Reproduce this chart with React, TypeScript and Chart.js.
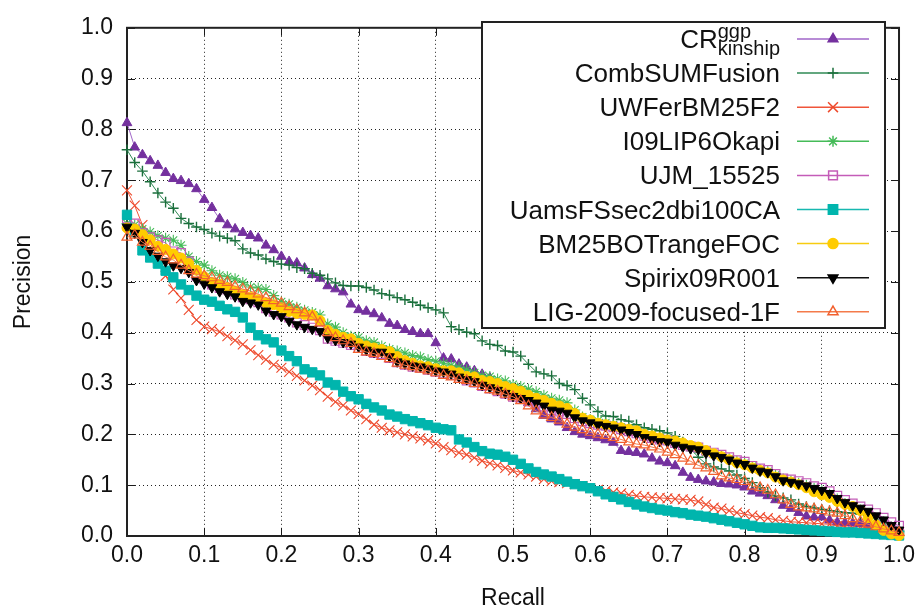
import React, { useEffect, useRef } from 'react';
import { Chart, registerables } from 'chart.js';
import { drawPoint } from 'chart.js/helpers';

Chart.register(...registerables);

const RECALL = [
  0.00, 0.01, 0.02, 0.03, 0.04, 0.05, 0.06, 0.07, 0.08, 0.09,
  0.10, 0.11, 0.12, 0.13, 0.14, 0.15, 0.16, 0.17, 0.18, 0.19,
  0.20, 0.21, 0.22, 0.23, 0.24, 0.25, 0.26, 0.27, 0.28, 0.29,
  0.30, 0.31, 0.32, 0.33, 0.34, 0.35, 0.36, 0.37, 0.38, 0.39,
  0.40, 0.41, 0.42, 0.43, 0.44, 0.45, 0.46, 0.47, 0.48, 0.49,
  0.50, 0.51, 0.52, 0.53, 0.54, 0.55, 0.56, 0.57, 0.58, 0.59,
  0.60, 0.61, 0.62, 0.63, 0.64, 0.65, 0.66, 0.67, 0.68, 0.69,
  0.70, 0.71, 0.72, 0.73, 0.74, 0.75, 0.76, 0.77, 0.78, 0.79,
  0.80, 0.81, 0.82, 0.83, 0.84, 0.85, 0.86, 0.87, 0.88, 0.89,
  0.90, 0.91, 0.92, 0.93, 0.94, 0.95, 0.96, 0.97, 0.98, 0.99,
  1.00,
];

const CR_KINSHIP = [
  0.813, 0.765, 0.750, 0.738, 0.729, 0.715, 0.703, 0.699, 0.693, 0.683,
  0.662, 0.646, 0.624, 0.612, 0.604, 0.597, 0.591, 0.586, 0.572, 0.563,
  0.550, 0.540, 0.537, 0.527, 0.514, 0.507, 0.492, 0.486, 0.480, 0.456,
  0.445, 0.442, 0.437, 0.429, 0.418, 0.414, 0.406, 0.402, 0.398, 0.398,
  0.380, 0.350, 0.348, 0.338, 0.332, 0.325, 0.318, 0.311, 0.300, 0.290,
  0.280, 0.270, 0.262, 0.250, 0.237, 0.230, 0.224, 0.213, 0.205, 0.200,
  0.197, 0.193, 0.189, 0.184, 0.168, 0.166, 0.164, 0.161, 0.153, 0.147,
  0.144, 0.138, 0.125, 0.115, 0.111, 0.108, 0.106, 0.103, 0.102, 0.100,
  0.096, 0.088, 0.084, 0.079, 0.071, 0.060, 0.054, 0.046, 0.039, 0.037,
  0.037, 0.031, 0.027, 0.026, 0.025, 0.024, 0.020, 0.017, 0.014, 0.012,
  0.010,
];

const COMB_SUM_FUSION = [
  0.760, 0.735, 0.718, 0.697, 0.675, 0.657, 0.645, 0.625, 0.615, 0.608,
  0.603, 0.596, 0.590, 0.586, 0.581, 0.565, 0.557, 0.553, 0.545, 0.540,
  0.535, 0.533, 0.528, 0.526, 0.517, 0.513, 0.506, 0.498, 0.493, 0.492,
  0.492, 0.489, 0.484, 0.477, 0.474, 0.469, 0.465, 0.460, 0.454, 0.449,
  0.445, 0.439, 0.412, 0.406, 0.401, 0.398, 0.384, 0.377, 0.375, 0.364,
  0.362, 0.354, 0.338, 0.323, 0.319, 0.315, 0.300, 0.296, 0.288, 0.271,
  0.258, 0.245, 0.236, 0.235, 0.229, 0.226, 0.219, 0.213, 0.210, 0.207,
  0.203, 0.196, 0.185, 0.172, 0.155, 0.142, 0.136, 0.132, 0.128, 0.120,
  0.113, 0.105, 0.095, 0.086, 0.079, 0.075, 0.071, 0.063, 0.058, 0.055,
  0.052, 0.050, 0.048, 0.046, 0.045, 0.043, 0.040, 0.035, 0.028, 0.018,
  0.008,
];

const UW_FER_BM25F2 = [
  0.680, 0.650, 0.612, 0.578, 0.545, 0.512, 0.485, 0.468, 0.445, 0.425,
  0.412, 0.407, 0.402, 0.393, 0.385, 0.377, 0.366, 0.356, 0.347, 0.337,
  0.331, 0.323, 0.315, 0.306, 0.296, 0.287, 0.274, 0.264, 0.257, 0.247,
  0.240, 0.230, 0.219, 0.213, 0.208, 0.204, 0.200, 0.196, 0.192, 0.188,
  0.182, 0.175, 0.169, 0.164, 0.160, 0.154, 0.148, 0.143, 0.139, 0.134,
  0.129, 0.125, 0.121, 0.117, 0.112, 0.108, 0.106, 0.104, 0.102, 0.098,
  0.094, 0.091, 0.089, 0.086, 0.084, 0.081, 0.079, 0.077, 0.076, 0.075,
  0.074, 0.073, 0.072, 0.071, 0.068, 0.062, 0.056, 0.054, 0.050, 0.046,
  0.043, 0.040, 0.037, 0.035, 0.032, 0.030, 0.028, 0.027, 0.026, 0.025,
  0.024, 0.023, 0.020, 0.018, 0.016, 0.015, 0.013, 0.011, 0.009, 0.007,
  0.004,
];

const I09_LIP6_OKAPI = [
  0.615, 0.612, 0.604, 0.598, 0.591, 0.586, 0.582, 0.572, 0.550, 0.540,
  0.533, 0.522, 0.513, 0.510, 0.506, 0.499, 0.490, 0.488, 0.485, 0.473,
  0.461, 0.456, 0.450, 0.444, 0.440, 0.435, 0.417, 0.411, 0.400, 0.393,
  0.391, 0.384, 0.381, 0.374, 0.368, 0.364, 0.360, 0.355, 0.352, 0.347,
  0.344, 0.340, 0.336, 0.332, 0.327, 0.321, 0.316, 0.314, 0.309, 0.305,
  0.298, 0.294, 0.289, 0.284, 0.277, 0.271, 0.267, 0.262, 0.248, 0.234,
  0.229, 0.227, 0.223, 0.219, 0.214, 0.211, 0.206, 0.202, 0.199, 0.194,
  0.189, 0.187, 0.181, 0.174, 0.170, 0.165, 0.161, 0.157, 0.152, 0.147,
  0.143, 0.137, 0.131, 0.127, 0.120, 0.112, 0.108, 0.104, 0.100, 0.094,
  0.089, 0.082, 0.073, 0.064, 0.057, 0.051, 0.043, 0.034, 0.025, 0.016,
  0.010,
];

const UJM_15525 = [
  0.625, 0.615, 0.596, 0.588, 0.582, 0.577, 0.560, 0.557, 0.540, 0.512,
  0.505, 0.495, 0.488, 0.485, 0.475, 0.470, 0.466, 0.460, 0.448, 0.441,
  0.436, 0.430, 0.420, 0.415, 0.410, 0.405, 0.388, 0.384, 0.380, 0.376,
  0.370, 0.364, 0.360, 0.358, 0.350, 0.342, 0.337, 0.333, 0.331, 0.327,
  0.323, 0.320, 0.317, 0.311, 0.306, 0.302, 0.295, 0.290, 0.285, 0.280,
  0.274, 0.270, 0.265, 0.261, 0.255, 0.248, 0.245, 0.240, 0.232, 0.226,
  0.222, 0.219, 0.217, 0.214, 0.210, 0.206, 0.202, 0.197, 0.193, 0.190,
  0.188, 0.183, 0.179, 0.176, 0.174, 0.168, 0.164, 0.160, 0.155, 0.149,
  0.146, 0.138, 0.133, 0.130, 0.122, 0.113, 0.111, 0.108, 0.104, 0.098,
  0.095, 0.088, 0.079, 0.071, 0.064, 0.058, 0.052, 0.045, 0.036, 0.027,
  0.020,
];

const UAMS_FS_SEC2DBI100CA = [
  0.632, 0.598, 0.562, 0.548, 0.536, 0.522, 0.509, 0.495, 0.484, 0.473,
  0.465, 0.461, 0.453, 0.446, 0.441, 0.430, 0.410, 0.395, 0.387, 0.381,
  0.365, 0.354, 0.344, 0.328, 0.322, 0.316, 0.302, 0.297, 0.284, 0.275,
  0.269, 0.260, 0.253, 0.247, 0.239, 0.235, 0.230, 0.226, 0.222, 0.218,
  0.213, 0.210, 0.208, 0.190, 0.184, 0.175, 0.167, 0.162, 0.160, 0.156,
  0.150, 0.142, 0.133, 0.126, 0.121, 0.117, 0.112, 0.107, 0.102, 0.098,
  0.094, 0.088, 0.082, 0.077, 0.072, 0.067, 0.062, 0.058, 0.055, 0.052,
  0.050, 0.047, 0.045, 0.042, 0.040, 0.038, 0.035, 0.032, 0.029, 0.026,
  0.023, 0.020, 0.017, 0.016, 0.016, 0.015, 0.014, 0.013, 0.012, 0.011,
  0.010, 0.009, 0.008, 0.007, 0.007, 0.006, 0.005, 0.004, 0.003, 0.002,
  0.001,
];

const BM25_BO_TRANGE_FOC = [
  0.606, 0.604, 0.593, 0.583, 0.570, 0.564, 0.555, 0.547, 0.536, 0.523,
  0.510, 0.499, 0.495, 0.489, 0.482, 0.475, 0.470, 0.465, 0.459, 0.455,
  0.449, 0.442, 0.438, 0.436, 0.435, 0.424, 0.405, 0.397, 0.391, 0.388,
  0.379, 0.374, 0.370, 0.367, 0.363, 0.353, 0.345, 0.340, 0.335, 0.333,
  0.329, 0.325, 0.325, 0.321, 0.314, 0.313, 0.306, 0.304, 0.300, 0.294,
  0.290, 0.285, 0.277, 0.271, 0.267, 0.261, 0.256, 0.251, 0.241, 0.232,
  0.228, 0.222, 0.219, 0.216, 0.213, 0.210, 0.207, 0.200, 0.197, 0.193,
  0.189, 0.187, 0.183, 0.178, 0.175, 0.168, 0.162, 0.156, 0.150, 0.144,
  0.140, 0.134, 0.129, 0.124, 0.116, 0.110, 0.106, 0.101, 0.095, 0.087,
  0.081, 0.076, 0.068, 0.062, 0.058, 0.050, 0.036, 0.022, 0.011, 0.004,
  0.001,
];

const SPIRIX09R001 = [
  0.608, 0.596, 0.578, 0.562, 0.551, 0.540, 0.532, 0.527, 0.519, 0.503,
  0.496, 0.489, 0.481, 0.476, 0.471, 0.462, 0.459, 0.455, 0.443, 0.436,
  0.432, 0.423, 0.416, 0.411, 0.407, 0.403, 0.390, 0.385, 0.381, 0.378,
  0.372, 0.366, 0.362, 0.362, 0.353, 0.343, 0.339, 0.335, 0.333, 0.329,
  0.325, 0.323, 0.319, 0.313, 0.308, 0.304, 0.297, 0.292, 0.287, 0.281,
  0.275, 0.271, 0.267, 0.262, 0.256, 0.248, 0.246, 0.242, 0.233, 0.227,
  0.223, 0.219, 0.216, 0.213, 0.209, 0.204, 0.200, 0.194, 0.190, 0.186,
  0.185, 0.179, 0.175, 0.172, 0.170, 0.163, 0.158, 0.155, 0.150, 0.144,
  0.141, 0.134, 0.128, 0.125, 0.117, 0.109, 0.106, 0.103, 0.099, 0.094,
  0.090, 0.084, 0.074, 0.066, 0.060, 0.055, 0.049, 0.040, 0.032, 0.021,
  0.012,
];

const LIG_2009_FOCUSED_1F = [
  0.588, 0.592, 0.578, 0.570, 0.560, 0.549, 0.543, 0.533, 0.522, 0.515,
  0.512, 0.508, 0.503, 0.499, 0.491, 0.486, 0.482, 0.476, 0.469, 0.463,
  0.458, 0.451, 0.445, 0.439, 0.431, 0.419, 0.400, 0.390, 0.384, 0.379,
  0.367, 0.362, 0.359, 0.353, 0.349, 0.340, 0.336, 0.333, 0.328, 0.325,
  0.321, 0.316, 0.313, 0.308, 0.306, 0.300, 0.294, 0.288, 0.285, 0.279,
  0.274, 0.266, 0.256, 0.246, 0.238, 0.233, 0.228, 0.220, 0.214, 0.209,
  0.204, 0.200, 0.198, 0.194, 0.190, 0.185, 0.181, 0.179, 0.175, 0.171,
  0.165, 0.160, 0.153, 0.147, 0.139, 0.134, 0.127, 0.118, 0.114, 0.111,
  0.107, 0.098, 0.095, 0.090, 0.081, 0.071, 0.062, 0.057, 0.055, 0.053,
  0.050, 0.047, 0.045, 0.040, 0.034, 0.028, 0.023, 0.018, 0.014, 0.010,
  0.007,
];

const X_TICKS = [0, 0.1, 0.2, 0.3, 0.4, 0.5, 0.6, 0.7, 0.8, 0.9, 1.0];
const Y_TICKS = [0, 0.1, 0.2, 0.3, 0.4, 0.5, 0.6, 0.7, 0.8, 0.9, 1.0];

// label: [main, superscript, subscript]
const LABELS: [string, string, string][] = [
  ['CR', 'ggp', 'kinship'],
  ['CombSUMFusion', '', ''],
  ['UWFerBM25F2', '', ''],
  ['I09LIP6Okapi', '', ''],
  ['UJM_15525', '', ''],
  ['UamsFSsec2dbi100CA', '', ''],
  ['BM25BOTrangeFOC', '', ''],
  ['Spirix09R001', '', ''],
  ['LIG-2009-focused-1F', '', ''],
];

const VALUES = [
  CR_KINSHIP,
  COMB_SUM_FUSION,
  UW_FER_BM25F2,
  I09_LIP6_OKAPI,
  UJM_15525,
  UAMS_FS_SEC2DBI100CA,
  BM25_BO_TRANGE_FOC,
  SPIRIX09R001,
  LIG_2009_FOCUSED_1F,
];

const STYLES = [
  { line: '#a066c8', marker: '#74309e', fill: '#74309e', style: 'triangle', rot: 0, r: 5.6, bw: 1 },
  { line: '#2f8a55', marker: '#1b6f3c', fill: '#1b6f3c', style: 'cross', rot: 0, r: 5.3, bw: 1.4 },
  { line: '#f0553a', marker: '#ee4a2c', fill: '#ee4a2c', style: 'crossRot', rot: 0, r: 7, bw: 1.1 },
  { line: '#45bb58', marker: '#45bb58', fill: '#45bb58', style: 'star', rot: 0, r: 5.5, bw: 1.1 },
  { line: '#c45cb8', marker: '#c45cb8', fill: 'rgba(0,0,0,0)', style: 'rect', rot: 0, r: 6.2, bw: 1.2 },
  { line: '#17b8b0', marker: '#00b5ad', fill: '#00b5ad', style: 'rect', rot: 0, r: 6.6, bw: 1 },
  { line: '#f7cc10', marker: '#ffcc00', fill: '#ffcc00', style: 'circle', rot: 0, r: 5.0, bw: 1 },
  { line: '#111111', marker: '#000000', fill: '#000000', style: 'triangle', rot: 180, r: 5.6, bw: 1 },
  { line: '#f47a4a', marker: '#f2602e', fill: 'rgba(0,0,0,0)', style: 'triangle', rot: 0, r: 5.8, bw: 1.2 },
];

const FONT = '"Liberation Sans", Arial, Helvetica, sans-serif';

const framePlugin = {
  id: 'gnuFrame',
  beforeDatasetsDraw(chart: any) {
    const { ctx, chartArea: a, scales } = chart;
    ctx.save();
    ctx.strokeStyle = '#1a1a1a';
    ctx.lineWidth = 1;
    ctx.beginPath();
    const tl = 8;
    X_TICKS.forEach((v) => {
      const x = Math.round(scales.x.getPixelForValue(v)) + 0.5;
      ctx.moveTo(x, a.bottom);
      ctx.lineTo(x, a.bottom - tl);
      ctx.moveTo(x, a.top);
      ctx.lineTo(x, a.top + tl);
    });
    Y_TICKS.forEach((v) => {
      const y = Math.round(scales.y.getPixelForValue(v)) + 0.5;
      ctx.moveTo(a.left, y);
      ctx.lineTo(a.left + tl, y);
      ctx.moveTo(a.right, y);
      ctx.lineTo(a.right - tl, y);
    });
    ctx.stroke();
    ctx.lineWidth = 2;
    ctx.strokeStyle = '#222';
    ctx.strokeRect(a.left, a.top, a.right - a.left, a.bottom - a.top);
    ctx.restore();
  },
};

const legendPlugin = {
  id: 'gnuLegend',
  afterDatasetsDraw(chart: any) {
    const { ctx } = chart;
    const box = { l: 482, t: 22, r: 885, b: 328 };
    ctx.save();
    ctx.fillStyle = '#fff';
    ctx.fillRect(box.l, box.t, box.r - box.l, box.b - box.t);
    ctx.lineWidth = 2;
    ctx.strokeStyle = '#222';
    ctx.strokeRect(box.l, box.t, box.r - box.l, box.b - box.t);
    const textRight = 780;
    const x0 = 797;
    const x1 = 869;
    const xm = 833;
    LABELS.forEach((lab, i) => {
      const yc = 39 + i * 34.1;
      const s = STYLES[i];
      ctx.fillStyle = '#111';
      ctx.textBaseline = 'alphabetic';
      if (lab[1] || lab[2]) {
        ctx.font = `20px ${FONT}`;
        const w = Math.max(ctx.measureText(lab[1]).width, ctx.measureText(lab[2]).width);
        const xs = textRight - w;
        ctx.textAlign = 'left';
        ctx.fillText(lab[1], xs, yc - 1);
        ctx.fillText(lab[2], xs, yc + 16);
        ctx.font = `26px ${FONT}`;
        ctx.textAlign = 'right';
        ctx.fillText(lab[0], xs, yc + 9);
      } else {
        ctx.font = `26px ${FONT}`;
        ctx.textAlign = 'right';
        ctx.fillText(lab[0], textRight, yc + 9);
      }
      ctx.strokeStyle = s.line;
      ctx.lineWidth = 1.5;
      ctx.beginPath();
      ctx.moveTo(x0, yc);
      ctx.lineTo(x1, yc);
      ctx.stroke();
      ctx.strokeStyle = s.marker;
      ctx.fillStyle = s.fill;
      drawPoint(ctx, { pointStyle: s.style, rotation: s.rot, radius: s.r, borderWidth: s.bw } as any, xm, yc);
    });
    ctx.restore();
  },
};

export default function App() {
  const ref = useRef<HTMLCanvasElement | null>(null);

  useEffect(() => {
    if (!ref.current) return;
    const datasets = VALUES.map((vals, i) => {
      const s = STYLES[i];
      return {
        label: LABELS[i][0] + LABELS[i][1] + LABELS[i][2],
        data: RECALL.map((r, k) => ({ x: r, y: vals[k] })),
        borderColor: s.line,
        borderWidth: 1,
        backgroundColor: s.fill,
        pointStyle: s.style,
        pointRotation: s.rot,
        pointRadius: s.r,
        pointBorderWidth: s.bw,
        pointBorderColor: s.marker,
        pointBackgroundColor: s.fill,
        tension: 0,
        fill: false,
        clip: false,
        order: VALUES.length - 1 - i,
      };
    });

    const tickFont = { family: FONT, size: 23 };
    const chart = new Chart(ref.current, {
      type: 'line',
      data: { datasets },
      plugins: [framePlugin, legendPlugin],
      options: {
        animation: false,
        responsive: false,
        maintainAspectRatio: false,
        layout: { padding: { left: 0, right: 16, top: 16, bottom: 0 } },
        plugins: { legend: { display: false }, tooltip: { enabled: false } },
        scales: {
          x: {
            type: 'linear',
            min: 0,
            max: 1,
            afterBuildTicks: (scale: any) => {
              scale.ticks = X_TICKS.map((v) => ({ value: v }));
            },
            afterFit: (scale: any) => {
              scale.height = 77;
            },
            ticks: {
              font: tickFont,
              color: '#111',
              padding: 6,
              maxRotation: 0,
              autoSkip: false,
              callback: (v: any) => Number(v).toFixed(1),
            },
            grid: { color: '#222', lineWidth: 1, drawTicks: false },
            border: { display: false, dash: [1, 3] },
            title: {
              display: true,
              text: 'Recall',
              font: { family: FONT, size: 23 },
              color: '#111',
              padding: { top: 0, bottom: 1 },
            },
          },
          y: {
            type: 'linear',
            min: 0,
            max: 1,
            afterBuildTicks: (scale: any) => {
              scale.ticks = Y_TICKS.map((v) => ({ value: v }));
            },
            afterFit: (scale: any) => {
              scale.width = 127;
            },
            ticks: {
              font: tickFont,
              color: '#111',
              padding: 14,
              autoSkip: false,
              callback: (v: any) => Number(v).toFixed(1),
            },
            grid: { color: '#222', lineWidth: 1, drawTicks: false },
            border: { display: false, dash: [1, 3] },
            title: {
              display: true,
              text: 'Precision',
              font: { family: FONT, size: 23 },
              color: '#111',
              padding: { top: 10, bottom: 0 },
            },
          },
        },
      } as any,
    });
    return () => chart.destroy();
  }, []);

  return (
    <div style={{ position: 'fixed', left: 0, top: 0, width: 921, height: 613, background: '#fff' }}>
      <canvas ref={ref} width={921} height={613} style={{ display: 'block', width: 921, height: 613 }} />
    </div>
  );
}
